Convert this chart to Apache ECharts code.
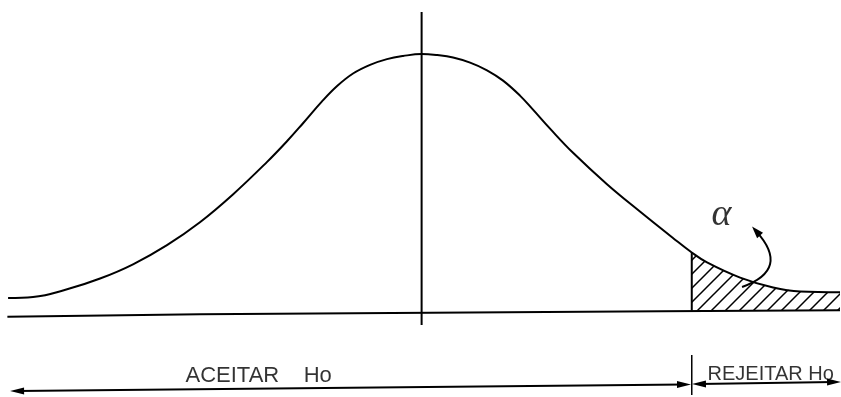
<!DOCTYPE html>
<html>
<head>
<meta charset="utf-8">
<script src="https://cdn.jsdelivr.net/npm/echarts@6/dist/echarts.min.js"></script>
<style>
  html, body { margin: 0; padding: 0; background: #fff; }
  #chart { width: 841px; height: 397px; }
</style>
</head>
<body>
<div id="chart"></div>
<script>
// 曲线 (横坐标 z, 纵坐标 密度)
const curveX = [-2.985, -2.805, -2.559, -2.321, -2.083, -1.838, -1.6, -1.362, -1.117, -0.972, -0.856, -0.719,
  -0.61, -0.495, -0.372, -0.25, -0.134, 0, 0.112, 0.227, 0.35, 0.472, 0.588, 0.71, 0.804, 0.927, 1.093,
  1.338, 1.576, 1.814, 1.95, 2.06, 2.299, 2.537, 2.732, 3.02]
const curveY = [0.0285, 0.03, 0.0417, 0.058, 0.0796, 0.1087, 0.1434, 0.1855, 0.2345, 0.2661, 0.2934, 0.3265,
  0.3498, 0.3688, 0.3819, 0.3906, 0.3953, 0.3983, 0.3967, 0.3931, 0.3853, 0.3737, 0.358, 0.3353, 0.314, 0.2852,
  0.2486, 0.2011, 0.1596, 0.1196, 0.0975, 0.0824, 0.0594, 0.0444, 0.0383, 0.0371]

// 基线 (略微倾斜)
const baseX = [-2.99, -1.6, 1.73, 3.02]
const baseY = [0, 0.004, 0.0086, 0.0101]

// 中心线与临界值
const centerX = 0
const centerY = [0.462, -0.0124]
const rejectX = 1.95
const rejectBaseY = 0.0095
const tickY = [-0.0579, -0.1185]

// 下方的两段箭头
const aceitarLine = [[-2.92, -0.1125], [1.894, -0.1026]]
const rejeitarLine = [[2.002, -0.1018], [2.977, -0.0988]]
// alpha 弯箭头
const alphaArrow = [[2.313, 0.0452], [2.414, 0.130]]

// 文字
const labelText = ['ACEITAR    Ho', 'REJEITAR Ho', 'α']
const labelPos = [[-1.708, -0.089], [2.06, -0.0868], [2.165, 0.155]]

// 阴影区域 = 临界值右侧的曲线 + 基线
const hatchPts = []
curveX.forEach((x, i) => { if (x >= rejectX) hatchPts.push([x, curveY[i]]) })
hatchPts.push([baseX[baseX.length - 1], baseY[baseY.length - 1]])
hatchPts.push([rejectX, rejectBaseY])

// 斜线纹理
function makeHatch () {
  const s = 14
  const c = document.createElement('canvas')
  c.width = s
  c.height = s
  const ctx = c.getContext('2d')
  ctx.strokeStyle = '#000'
  ctx.lineWidth = 1.5
  ctx.beginPath()
  ctx.moveTo(-2, s + 2); ctx.lineTo(s + 2, -2)
  ctx.moveTo(-2, 2); ctx.lineTo(2, -2)
  ctx.moveTo(s - 2, s + 2); ctx.lineTo(s + 2, s - 2)
  ctx.stroke()
  return c
}
const hatch = { image: makeHatch(), repeat: 'repeat' }

const black = '#000'
const arrowPath = 'path://M5,0 L10,20 L0,20 Z'

const chart = echarts.init(document.getElementById('chart'))
chart.setOption({
  animation: false,
  grid: { left: 6, right: 1, top: 12, bottom: 1 },
  xAxis: { type: 'value', min: -3, max: 3.02, show: false },
  yAxis: { type: 'value', min: -0.12, max: 0.462, show: false },
  series: [
    {
      type: 'custom',
      z: 1,
      data: [[rejectX, 0]],
      renderItem: function (params, api) {
        if (params.dataIndex !== 0) return
        const pts = hatchPts.map(p => api.coord(p))
        return { type: 'polygon', shape: { points: pts }, style: { fill: hatch, stroke: null } }
      }
    },
    {
      name: 'curva',
      type: 'line',
      z: 3,
      data: curveX.map((x, i) => [x, curveY[i]]),
      symbol: 'none',
      smooth: 0.4,
      lineStyle: { color: black, width: 2 }
    },
    {
      name: 'base',
      type: 'line',
      z: 3,
      data: baseX.map((x, i) => [x, baseY[i]]),
      symbol: 'none',
      lineStyle: { color: black, width: 2 }
    },
    {
      name: 'centro',
      type: 'line',
      z: 3,
      data: centerY.map(y => [centerX, y]),
      symbol: 'none',
      lineStyle: { color: black, width: 2 }
    },
    {
      name: 'critico',
      type: 'line',
      z: 3,
      data: [[rejectX, curveY[curveX.indexOf(rejectX)]], [rejectX, rejectBaseY]],
      symbol: 'none',
      lineStyle: { color: black, width: 2 }
    },
    {
      name: 'tick',
      type: 'line',
      z: 3,
      data: tickY.map(y => [rejectX, y]),
      symbol: 'none',
      lineStyle: { color: black, width: 1.5 }
    },
    {
      type: 'lines',
      coordinateSystem: 'cartesian2d',
      z: 3,
      clip: false,
      symbol: [arrowPath, arrowPath],
      symbolSize: [[7, 14], [7, 14]],
      lineStyle: { color: black, width: 2, opacity: 1, curveness: 0 },
      itemStyle: { color: black },
      data: [{ coords: aceitarLine }, { coords: rejeitarLine }]
    },
    {
      type: 'lines',
      coordinateSystem: 'cartesian2d',
      z: 3,
      clip: false,
      symbol: ['none', arrowPath],
      symbolSize: [[8, 12], [8, 12]],
      lineStyle: { color: black, width: 2, opacity: 1, curveness: -0.75 },
      itemStyle: { color: black },
      data: [{ coords: alphaArrow }]
    },
    {
      type: 'scatter',
      z: 4,
      symbolSize: 1,
      itemStyle: { color: 'transparent' },
      label: { show: true, color: black, fontFamily: 'Liberation Sans' },
      data: [
        { value: labelPos[0], label: { formatter: labelText[0], fontSize: 22, position: 'right', distance: 0 } },
        { value: labelPos[1], label: { formatter: labelText[1], fontSize: 20, position: 'right', distance: 0 } },
        { value: labelPos[2], label: { formatter: labelText[2], fontSize: 38, position: 'inside', fontStyle: 'italic', fontFamily: 'Liberation Serif' } }
      ]
    }
  ]
})
</script>
</body>
</html>
